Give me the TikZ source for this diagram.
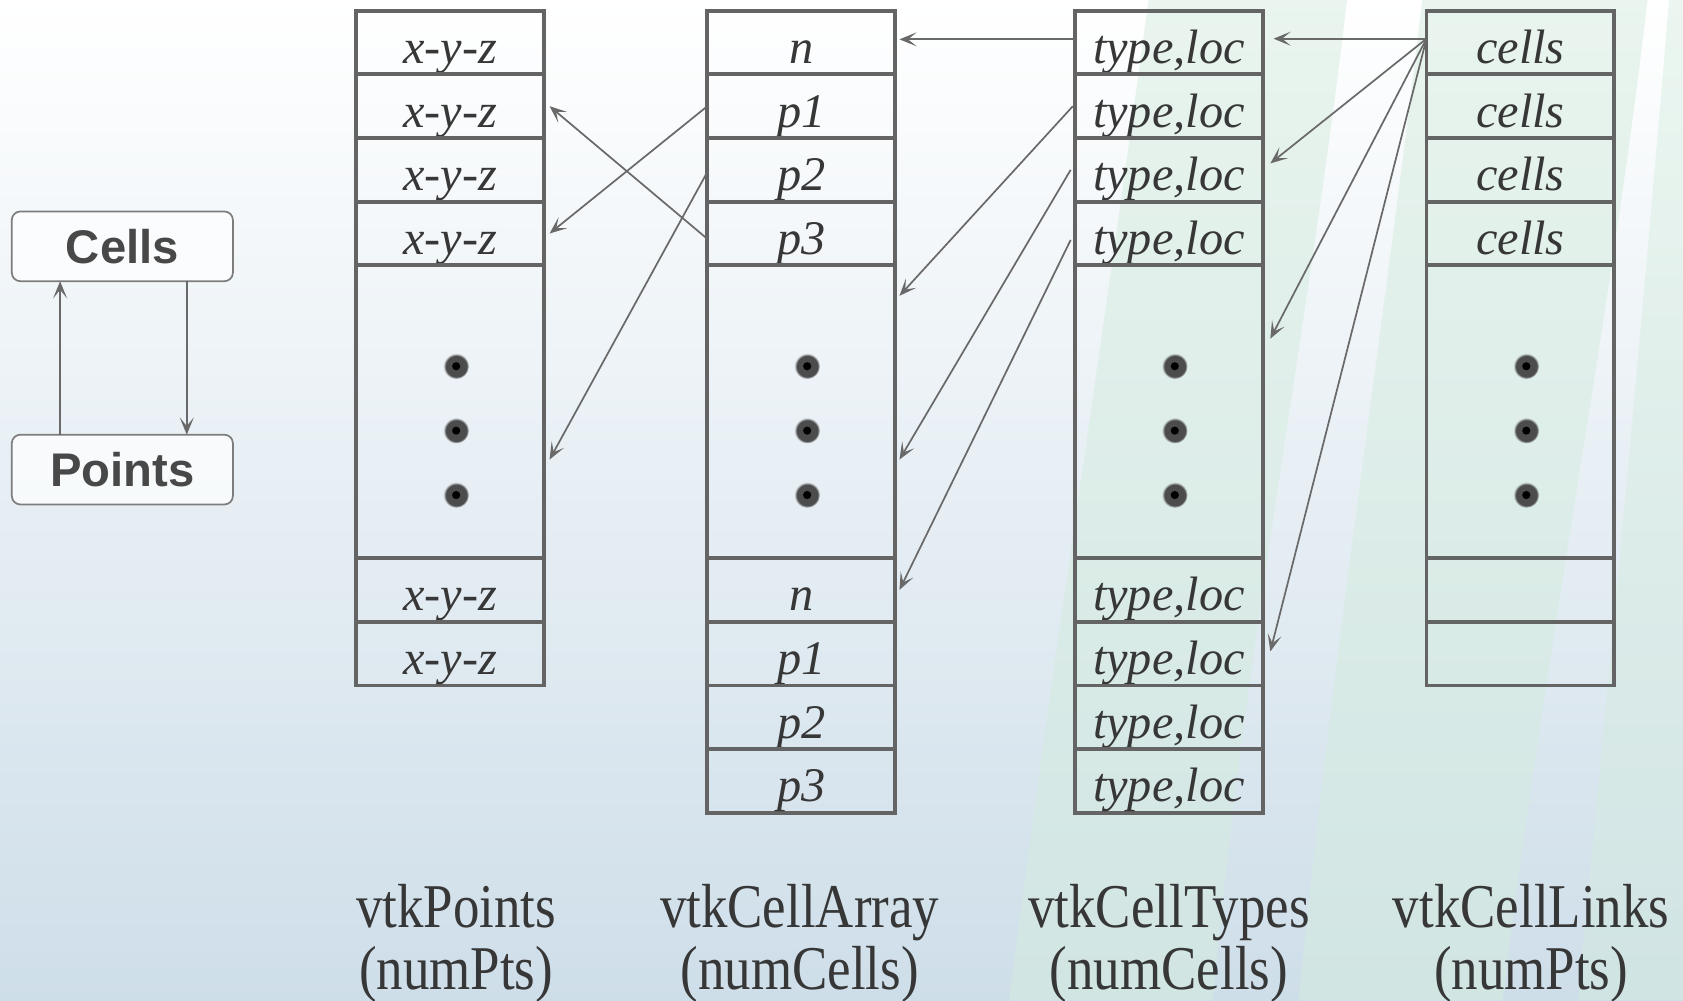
\documentclass[tikz,border=0pt]{standalone}
\usepackage{fontspec}
\setmainfont{Liberation Serif}
\newfontfamily\labelfont[FakeStretch=0.85]{Liberation Serif}
\newfontfamily\boxfont{Liberation Sans}
\usetikzlibrary{positioning,arrows.meta,fadings}

\definecolor{gridgray}{RGB}{100,100,100}
\definecolor{arrowgray}{RGB}{105,105,105}
\definecolor{textgray}{RGB}{55,55,55}
\definecolor{boxgray}{RGB}{125,125,125}
\definecolor{boxtext}{RGB}{72,72,72}
\definecolor{bgbottom}{RGB}{206,222,233}
\definecolor{bgmid}{RGB}{240,244,247}
\definecolor{mint}{RGB}{212,236,222}

\begin{document}
\begin{tikzpicture}[x=0.5pt, y=-0.5pt,
    cell/.style={rectangle, draw=gridgray, line width=1.8pt, outer sep=0pt, inner sep=0pt, minimum width=87.5pt, minimum height=29.65pt, text height=21.5pt, text depth=2pt, font=\itshape\fontsize{22.5}{22.5}\selectfont, text=textgray},
    dotcell/.style={cell, minimum height=136.4pt},
    dotmark/.style={circle, inner sep=0pt, minimum size=12pt, fill=black!70, path fading=circle with fuzzy edge 20 percent, path picture={\fill[black] (path picture bounding box.center) circle (1.9pt);}},
    groupbox/.style={rectangle, rounded corners=4pt, draw=boxgray, line width=0.8pt, outer sep=0pt, fill=white, fill opacity=0.7, text opacity=1, minimum width=103pt, minimum height=32.5pt, font=\boxfont\bfseries\fontsize{22}{22}\selectfont, text=boxtext},
    tablelabel/.style={align=center, font=\labelfont\fontsize{29}{28.5}\selectfont, text=textgray},
    link/.style={draw=arrowgray, line width=0.8pt, -{Stealth[length=8pt,width=6.5pt,inset=4pt]}}]

    % background
    \useasboundingbox (0,0) rectangle (1568,932);
    \shade[top color=white, middle color=bgmid, bottom color=bgbottom] (0,0) rectangle (1568,932);
    \fill[mint, opacity=0.5] (1070,0) .. controls (1030,300) and (980,620) .. (940,932) -- (1130,932) .. controls (1160,600) and (1220,300) .. (1255,0) -- cycle;
    \fill[mint, opacity=0.5] (1325,0) .. controls (1290,300) and (1240,620) .. (1210,932) -- (1400,932) .. controls (1440,600) and (1500,300) .. (1535,0) -- cycle;
    \fill[mint, opacity=0.45] (1555,0) .. controls (1530,300) and (1500,620) .. (1470,932) -- (1568,932) -- (1568,0) -- cycle;

    % Cells / Points
    \node (cells) [groupbox] at (114,229.5) {Cells};
    \node (points) [groupbox, below=71.5pt of cells] {Points};
    \draw[link] ([xshift=-29pt]points.north) -- ([xshift=-29pt]cells.south);
    \draw[link] ([xshift=30pt]cells.south) -- ([xshift=30pt]points.north);

    % vtkPoints
    \node (pt1) [cell] at (419.5,39.65) {x-y-z};
    \node (pt2) [cell, below=0pt of pt1] {x-y-z};
    \node (pt3) [cell, below=0pt of pt2] {x-y-z};
    \node (pt4) [cell, below=0pt of pt3] {x-y-z};
    \node (ptdots) [dotcell, below=0pt of pt4] {};
    \node (pt5) [cell, below=0pt of ptdots] {x-y-z};
    \node (pt6) [cell, below=0pt of pt5] {x-y-z};

    % vtkCellArray
    \node (ca1) [cell] at (746.5,39.65) {n};
    \node (ca2) [cell, below=0pt of ca1] {p1};
    \node (ca3) [cell, below=0pt of ca2] {p2};
    \node (ca4) [cell, below=0pt of ca3] {p3};
    \node (cadots) [dotcell, below=0pt of ca4] {};
    \node (ca5) [cell, below=0pt of cadots] {n};
    \node (ca6) [cell, below=0pt of ca5] {p1};
    \node (ca7) [cell, below=0pt of ca6] {p2};
    \node (ca8) [cell, below=0pt of ca7] {p3};

    % vtkCellTypes
    \node (ct1) [cell] at (1089,39.65) {type,loc};
    \node (ct2) [cell, below=0pt of ct1] {type,loc};
    \node (ct3) [cell, below=0pt of ct2] {type,loc};
    \node (ct4) [cell, below=0pt of ct3] {type,loc};
    \node (ctdots) [dotcell, below=0pt of ct4] {};
    \node (ct5) [cell, below=0pt of ctdots] {type,loc};
    \node (ct6) [cell, below=0pt of ct5] {type,loc};
    \node (ct7) [cell, below=0pt of ct6] {type,loc};
    \node (ct8) [cell, below=0pt of ct7] {type,loc};

    % vtkCellLinks
    \node (cl1) [cell] at (1416.5,39.65) {cells};
    \node (cl2) [cell, below=0pt of cl1] {cells};
    \node (cl3) [cell, below=0pt of cl2] {cells};
    \node (cl4) [cell, below=0pt of cl3] {cells};
    \node (cldots) [dotcell, below=0pt of cl4] {};
    \node (cl5) [cell, below=0pt of cldots] {};
    \node (cl6) [cell, below=0pt of cl5] {};

    % dots
    \node (ptd1) [dotmark] at ([xshift=2.75pt, yshift=21.2pt]ptdots.center) {};
    \node (ptd2) [dotmark] at ([xshift=2.75pt, yshift=-8.8pt]ptdots.center) {};
    \node (ptd3) [dotmark] at ([xshift=2.75pt, yshift=-38.8pt]ptdots.center) {};
    \node (cad1) [dotmark] at ([xshift=2.75pt, yshift=21.2pt]cadots.center) {};
    \node (cad2) [dotmark] at ([xshift=2.75pt, yshift=-8.8pt]cadots.center) {};
    \node (cad3) [dotmark] at ([xshift=2.75pt, yshift=-38.8pt]cadots.center) {};
    \node (ctd1) [dotmark] at ([xshift=2.75pt, yshift=21.2pt]ctdots.center) {};
    \node (ctd2) [dotmark] at ([xshift=2.75pt, yshift=-8.8pt]ctdots.center) {};
    \node (ctd3) [dotmark] at ([xshift=2.75pt, yshift=-38.8pt]ctdots.center) {};
    \node (cld1) [dotmark] at ([xshift=2.75pt, yshift=21.2pt]cldots.center) {};
    \node (cld2) [dotmark] at ([xshift=2.75pt, yshift=-8.8pt]cldots.center) {};
    \node (cld3) [dotmark] at ([xshift=2.75pt, yshift=-38.8pt]cldots.center) {};

    % cell array -> points
    \draw[link] (ca2.west) -- ([xshift=2.5pt]pt4.east);
    \draw[link] ([yshift=-2.5pt]ca4.west) -- ([xshift=2.5pt]pt2.east);
    \draw[link] ([yshift=-1pt]ca3.west) -- ([xshift=2.5pt, yshift=-22.3pt]ptdots.east);

    % cell types -> cell array
    \draw[link] ([yshift=1.5pt]ct1.west) -- ([xshift=2pt, yshift=1.5pt]ca1.east);
    \draw[link] ([xshift=-1pt]ct2.west) -- ([xshift=2pt, yshift=54pt]cadots.east);
    \draw[link] ([xshift=-2pt]ct3.west) -- ([xshift=2pt, yshift=-22.3pt]cadots.east);
    \draw[link] ([xshift=-2pt, yshift=-3pt]ct4.west) -- ([xshift=2pt]ca5.east);

    % cell links -> cell types
    \coordinate (hub) at ([yshift=1.8pt]cl1.west);
    \draw[link] (hub) -- ([xshift=5pt, yshift=1.8pt]ct1.east);
    \draw[link] (hub) -- ([xshift=3.5pt, yshift=3pt]ct3.east);
    \draw[link] (hub) -- ([xshift=3.5pt, yshift=34pt]ctdots.east);
    \draw[link] (hub) -- ([xshift=3.5pt, yshift=1pt]ct6.east);

    % table names
    \node (ptlabel) [tablelabel] at (425,879) {vtkPoints\\(numPts)};
    \node (calabel) [tablelabel] at (745,879) {vtkCellArray\\(numCells)};
    \node (ctlabel) [tablelabel] at (1089,879) {vtkCellTypes\\(numCells)};
    \node (cllabel) [tablelabel] at (1426.5,879) {vtkCellLinks\\(numPts)};
\end{tikzpicture}
\end{document}
